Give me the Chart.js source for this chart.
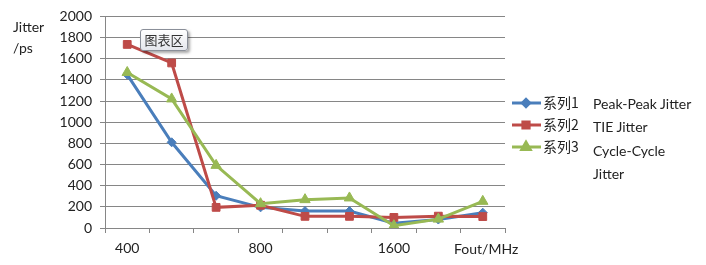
<!DOCTYPE html>
<html>
<head>
<meta charset="utf-8">
<script src="https://cdn.jsdelivr.net/npm/chart.js@4"></script>
<style>
  html, body { margin: 0; padding: 0; background: #fff; }
  #wrap { position: relative; width: 706px; height: 265px; font-family: Lato, "Noto Sans", sans-serif; color: #222; }
  #chart { position: absolute; left: 0; top: 0; }
  .txt { position: absolute; font-size: 14px; line-height: 16px; white-space: nowrap; }
  .tip { position: absolute; left: 140px; top: 29px; width: 46px; height: 20px; border: 1px solid #8a8f99; border-radius: 3px;
         background: linear-gradient(#ffffff, #e4e6ec); box-shadow: 2px 2px 3px rgba(0,0,0,0.35);
         font-family: "Noto Sans CJK SC", sans-serif; font-size: 13px; line-height: 20px; text-align: center; color: #333; }
</style>
</head>
<body>
<div id="wrap">
  <canvas id="chart" width="706" height="265"></canvas>
  <div class="txt" style="left:13px;top:19px;">Jitter</div>
  <div class="txt" style="left:13px;top:40px;">/ps</div>
  <div class="txt" style="left:454px;top:241px;">Fout/MHz</div>
  <div class="txt" style="left:593px;top:96px;">Peak-Peak Jitter</div>
  <div class="txt" style="left:593px;top:119px;">TIE Jitter</div>
  <div class="txt" style="left:593px;top:143px;">Cycle-Cycle</div>
  <div class="txt" style="left:593px;top:166px;">Jitter</div>
  <div class="tip">图表区</div>
</div>
<script>
const tickLabels = ['400', '', '', '800', '', '', '1600', '', ''];
const seriesNames = ['系列1', '系列2', '系列3'];
const series1 = [1450, 810, 305, 195, 160, 160, 45, 80, 145];
const series2 = [1735, 1560, 195, 215, 110, 110, 100, 112, 108];
const series3 = [1470, 1220, 592, 230, 268, 284, 22, 84, 252];

const colors = ['#4A7EBB', '#BE4B48', '#98B954'];
const markers = ['rectRot', 'rect', 'triangle'];
const radii = [4.5, 5.5, 6];

const legendPlugin = {
    id: 'sideLegend',
    afterDraw(chart) {
        const ctx = chart.ctx;
        const ys = [103, 125, 147];
        ctx.save();
        chart.data.datasets.forEach((ds, i) => {
            const y = ys[i];
            ctx.strokeStyle = ds.borderColor;
            ctx.lineWidth = 3;
            ctx.beginPath();
            ctx.moveTo(512, y);
            ctx.lineTo(541, y);
            ctx.stroke();
            Chart.helpers.drawPoint(ctx, {
                pointStyle: ds.pointStyle,
                radius: ds.pointRadius * 0.8,
                borderWidth: 1
            }, 526, y);
            ctx.fillStyle = ds.backgroundColor;
            ctx.fill();
            ctx.fillStyle = '#222';
            ctx.font = '14px "Noto Sans CJK SC", sans-serif';
            ctx.textBaseline = 'middle';
            ctx.fillText(ds.label, 543, y);
        });
        ctx.restore();
    }
};

const values = [series1, series2, series3];

new Chart(document.getElementById('chart'), {
    type: 'line',
    data: {
        labels: tickLabels,
        datasets: values.map((v, i) => ({
            label: seriesNames[i],
            data: v,
            borderColor: colors[i],
            backgroundColor: colors[i],
            borderWidth: 3,
            pointStyle: markers[i],
            pointRadius: radii[i],
            pointBorderWidth: 1,
            pointBorderColor: colors[i],
            tension: 0,
            order: 2 - i
        }))
    },
    options: {
        responsive: false,
        animation: false,
        layout: { padding: { top: 13, right: 201, left: 0, bottom: 0 } },
        plugins: { legend: { display: false }, tooltip: { enabled: false } },
        scales: {
            x: {
                offset: true,
                afterFit: s => { s.height = 37; },
                grid: { offset: true, drawOnChartArea: false, drawTicks: true, tickLength: 5, color: '#868686' },
                border: { display: true, color: '#868686', width: 1 },
                ticks: { autoSkip: false, maxRotation: 0, padding: 7, color: '#222', font: { family: 'Lato', size: 14 } }
            },
            y: {
                min: 0,
                max: 2000,
                afterFit: s => { s.width = 105; },
                grid: { color: '#868686', tickLength: 5 },
                border: { display: true, color: '#868686', width: 1 },
                ticks: { stepSize: 200, padding: 8, color: '#222', font: { family: 'Lato', size: 14 },
                         callback: v => String(v) }
            }
        }
    },
    plugins: [legendPlugin]
});
</script>
</body>
</html>
